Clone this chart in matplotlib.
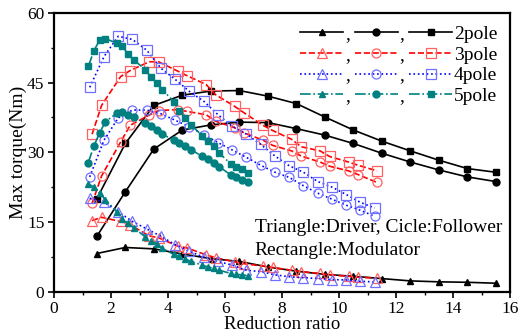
import matplotlib
matplotlib.use('Agg')
import matplotlib.pyplot as plt
from matplotlib.ticker import MultipleLocator

plt.rcParams['font.family'] = ['Liberation Serif', 'DejaVu Serif']

# 2 pole
x2 = [1.5, 2.5, 3.5, 4.5, 5.5, 6.5, 7.5, 8.5, 9.5, 10.5, 11.5, 12.5, 13.5, 14.5, 15.5]
tri2 = [8.2, 9.5, 9.2, 8.1, 7.1, 6.5, 5.3, 4.4, 3.7, 3.3, 2.8, 2.3, 2.1, 2.0, 1.8]
cir2 = [11.9, 21.5, 30.7, 34.8, 35.9, 36.5, 36.4, 35.1, 33.7, 31.9, 29.8, 27.9, 26.2, 24.7, 23.7]
sq2 = [20.0, 31.9, 40.1, 42.3, 43.2, 43.3, 42.1, 40.5, 37.6, 34.8, 32.4, 30.3, 28.3, 26.5, 25.7]

# 3 pole
x3 = [4/3, 5/3, 7/3, 8/3, 10/3, 11/3, 13/3, 14/3, 16/3, 17/3, 19/3, 20/3, 22/3, 23/3,
      25/3, 26/3, 28/3, 29/3, 31/3, 32/3, 34/3]
tri3 = [15.3, 16.0, 15.1, 14.4, 12.0, 11.6, 9.8, 9.4, 7.9, 7.3, 6.4, 6.0, 5.5, 5.2,
        4.6, 4.3, 3.9, 3.6, 3.3, 3.1, 2.9]
cir3 = [19.0, 24.9, 32.2, 35.8, 38.0, 39.0, 39.2, 38.8, 38.1, 36.7, 35.3, 34.2, 32.6, 31.5,
        30.3, 29.2, 27.9, 27.0, 26.0, 25.2, 23.5]
sq3 = [33.9, 40.1, 46.3, 47.6, 49.5, 49.5, 47.5, 46.5, 44.6, 42.4, 39.9, 38.5, 35.8, 34.7,
       32.8, 31.2, 30.3, 29.1, 27.9, 27.2, 26.0]

# 4 pole
x4 = [1.25, 1.75, 2.25, 2.75, 3.25, 3.75, 4.25, 4.75, 5.25, 5.75, 6.25, 6.75, 7.25, 7.75,
      8.25, 8.75, 9.25, 9.75, 10.25, 10.75, 11.25]
tri4 = [20.1, 19.3, 17.2, 15.1, 13.5, 11.9, 10.1, 8.7, 7.4, 6.5, 5.7, 4.6, 4.3, 3.6,
        3.2, 3.0, 2.8, 2.6, 2.5, 2.2, 2.1]
cir4 = [24.7, 32.6, 37.4, 39.1, 39.1, 38.3, 36.9, 35.5, 33.8, 32.1, 30.5, 28.9, 27.2, 25.7,
        24.6, 22.8, 21.2, 19.9, 18.6, 17.5, 16.2]
sq4 = [44.0, 50.6, 55.0, 54.3, 52.0, 48.1, 45.7, 43.1, 41.0, 38.1, 35.6, 33.9, 31.7, 29.2,
       27.1, 25.7, 23.7, 22.5, 20.9, 19.2, 18.0]

# 5 pole
x5 = [1.2, 1.4, 1.6, 1.8, 2.2, 2.4, 2.6, 2.8, 3.2, 3.4, 3.6, 3.8, 4.2, 4.4, 4.6, 4.8,
      5.2, 5.4, 5.6, 5.8, 6.2, 6.4, 6.6, 6.8]
tri5 = [23.2, 22.5, 21.2, 19.8, 17.2, 15.7, 14.7, 13.7, 11.8, 11.0, 10.3, 9.3, 8.0, 7.6,
        7.0, 6.5, 5.7, 5.3, 5.0, 4.6, 3.9, 3.7, 3.6, 3.4]
cir5 = [27.8, 31.4, 34.2, 36.6, 38.4, 38.7, 38.0, 37.6, 36.4, 35.6, 34.9, 33.9, 32.6, 31.9,
        31.4, 30.6, 29.1, 28.5, 27.8, 26.9, 25.1, 24.6, 24.1, 23.5]
sq5 = [48.5, 51.9, 54.2, 54.5, 53.5, 52.8, 51.1, 49.9, 47.8, 46.2, 45.0, 43.5, 40.9, 39.0,
       37.4, 35.9, 33.6, 32.5, 31.4, 29.8, 27.5, 26.9, 26.5, 25.5]

labels = ['2pole', '3pole', '4pole', '5pole']

fig = plt.figure(figsize=(5.2, 3.34), dpi=100)
ax = fig.add_axes((0.104, 0.127, 0.877, 0.834))

teal = '#008080'
styles = [
    # line colour, marker colour, linestyle, filled
    ('black', 'black', '-', True),
    ('#ff0000', '#ff6060', '--', False),
    ('#0000ff', '#7070ff', ':', False),
    (teal, teal, '-.', True),
]
groups = [(x2, tri2, cir2, sq2), (x3, tri3, cir3, sq3), (x4, tri4, cir4, sq4), (x5, tri5, cir5, sq5)]

handles = {'^': [], 'o': [], 's': []}
for (xs, t, c, s), (lc, mc, ls, filled) in zip(groups, styles):
    for ys, mk in ((t, '^'), (c, 'o'), (s, 's')):
        if filled:
            kw = dict(markerfacecolor=mc, markeredgecolor=mc, markersize=5)
        else:
            kw = dict(markerfacecolor='none', markeredgecolor=mc, markersize=6.5,
                      markeredgewidth=0.9)
        h, = ax.plot(xs, ys, color=lc, linestyle=ls, linewidth=1.2, marker=mk, **kw)
        handles[mk].append(h)

leg_handles = handles['^'] + handles['o'] + handles['s']
leg_labels = [','] * 8 + labels
ax.legend(leg_handles, leg_labels, ncol=3, loc='upper right', frameon=False,
          fontsize=14, handlelength=2.2, handletextpad=0.1, columnspacing=0.25,
          labelspacing=0.15, borderaxespad=0.45, borderpad=0.2)

ax.text(0.44, 0.214, 'Triangle:Driver, Cicle:Follower', transform=ax.transAxes,
        fontsize=14, va='baseline')
ax.text(0.44, 0.13, 'Rectangle:Modulator', transform=ax.transAxes,
        fontsize=14, va='baseline')

ax.set_xlim(0, 16)
ax.set_ylim(0, 60)
ax.xaxis.set_major_locator(MultipleLocator(2))
ax.xaxis.set_minor_locator(MultipleLocator(1))
ax.yaxis.set_major_locator(MultipleLocator(15))
ax.yaxis.set_minor_locator(MultipleLocator(7.5))
ax.tick_params(which='major', length=4, width=1.2, labelsize=12.5, pad=3)
ax.tick_params(which='minor', length=2, width=1.0)
for sp in ax.spines.values():
    sp.set_linewidth(1.6)

ax.set_xlabel('Reduction ratio', fontsize=13.5, labelpad=-1)
ax.set_ylabel('Max torque(Nm)', fontsize=14, labelpad=0)

fig.savefig('out.png', dpi=100)
